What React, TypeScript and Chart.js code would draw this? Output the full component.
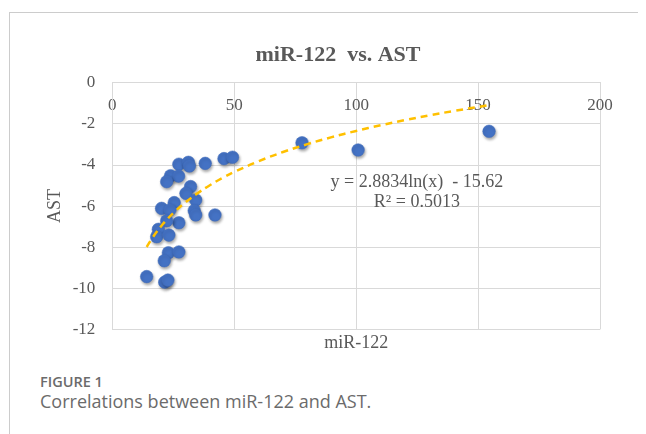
import React, { useEffect, useRef } from "react";
import { Chart, registerables } from "chart.js";

Chart.register(...registerables);

const TITLE = "miR-122  vs. AST";
const X_LABEL = "miR-122";
const Y_LABEL = "AST";
const FIG_LABEL = "FIGURE 1";
const CAPTION = "Correlations between miR-122 and AST.";

const miR122 = [
  27.3, 31.2, 31.6, 38.1, 45.8, 49.3, 23.9, 27.2, 22.3, 32.1, 30.2, 34.2, 25.4, 20.2, 23.6, 33.6,
  34.2, 42.1, 27.3, 22.3, 18.9, 18.2, 23.2, 23.0, 27.3, 21.3, 14.1, 21.5, 22.8, 77.8, 100.8, 154.5,
];
const AST = [
  -3.96, -3.87, -4.05, -3.92, -3.69, -3.62, -4.52, -4.54, -4.81, -5.05, -5.38, -5.7, -5.83, -6.11,
  -6.19, -6.22, -6.43, -6.43, -6.81, -6.71, -7.13, -7.49, -7.41, -8.27, -8.23, -8.66, -9.43, -9.7,
  -9.6, -2.92, -3.27, -2.36,
];

const X_TICKS = [0, 50, 100, 150, 200];
const Y_TICKS = [0, -2, -4, -6, -8, -10, -12];

// Logarithmic trendline shown on the chart: y = A ln(x) + B
const TREND_A = 2.8834;
const TREND_B = -15.62;
const EQUATION = "y = 2.8834ln(x)  - 15.62";
const R_SQUARED = "R² = 0.5013";
const TREND_X = [14.1, 15, 16, 18, 20, 23, 26, 30, 35, 40, 45, 50, 60, 70, 80, 90, 100, 110, 120, 130, 140, 154.5];
const EQ_POS = { x: 124.9, y1: -4.83, y2: -5.79 };

const SERIF = "'Liberation Serif', 'Times New Roman', serif";
const TEXT_GRAY = "#595959";
const GRID = "#d9d9d9";

export default function App() {
  const canvasRef = useRef<HTMLCanvasElement | null>(null);

  useEffect(() => {
    document.documentElement.style.overflow = "hidden";
    document.body.style.overflow = "hidden";
    const canvas = canvasRef.current;
    if (!canvas) return;

    const points = miR122.map((x, i) => ({ x, y: AST[i] }));
    const trend = TREND_X.map((x) => ({ x, y: TREND_A * Math.log(x) + TREND_B }));

    const shadowPlugin = {
      id: "pointShadow",
      beforeDatasetDraw(chart: any, args: any) {
        if (args.index !== 1) return;
        const ctx = chart.ctx;
        ctx.save();
        ctx.shadowColor = "rgba(0,0,0,0.35)";
        ctx.shadowBlur = 3;
        ctx.shadowOffsetX = 1;
        ctx.shadowOffsetY = 2;
      },
      afterDatasetDraw(chart: any, args: any) {
        if (args.index !== 1) return;
        chart.ctx.restore();
      },
    };

    const textPlugin = {
      id: "chartTexts",
      afterDraw(chart: any) {
        const ctx = chart.ctx;
        const xs = chart.scales.x;
        const ys = chart.scales.y;
        const area = chart.chartArea;
        ctx.save();
        ctx.fillStyle = TEXT_GRAY;
        ctx.textAlign = "center";
        ctx.textBaseline = "middle";
        // chart title
        ctx.font = `bold 22px ${SERIF}`;
        ctx.fillText(TITLE, 318, 35);
        // x-axis title, centred under the plot
        ctx.font = `18px ${SERIF}`;
        ctx.fillText(X_LABEL, (area.left + area.right) / 2, area.bottom + 14);
        // trendline equation
        const px = xs.getPixelForValue(EQ_POS.x);
        ctx.fillText(EQUATION, px, ys.getPixelForValue(EQ_POS.y1));
        ctx.fillText(R_SQUARED, px, ys.getPixelForValue(EQ_POS.y2));
        ctx.restore();
      },
    };

    const chart = new Chart(canvas, {
      type: "scatter",
      data: {
        datasets: [
          {
            type: "line",
            label: "Log trend",
            data: trend,
            borderColor: "#FFC000",
            borderWidth: 2.5,
            borderDash: [7, 5],
            pointRadius: 0,
            fill: false,
            tension: 0.4,
            order: 0,
          } as any,
          {
            label: "AST",
            data: points,
            backgroundColor: "#4472C4",
            borderColor: "#3f6bbb",
            borderWidth: 0.5,
            pointRadius: 6.3,
            order: 1,
          },
        ],
      },
      options: {
        responsive: false,
        animation: false,
        devicePixelRatio: 1,
        layout: { padding: { left: 0, right: 56, top: 62.8, bottom: 30.6 } },
        plugins: {
          legend: { display: false },
          tooltip: { enabled: false },
          title: { display: false },
        },
        scales: {
          x: {
            type: "linear",
            position: { y: 0 } as any,
            min: 0,
            max: 200,
            afterBuildTicks: (s: any) => {
              s.ticks = X_TICKS.map((v) => ({ value: v }));
            },
            ticks: {
              color: TEXT_GRAY,
              font: { family: SERIF, size: 17 },
              padding: 13,
              maxRotation: 0,
              minRotation: 0,
            },
            grid: { color: GRID, lineWidth: 1, drawTicks: false },
            border: { display: true, color: GRID, width: 1 },
            title: { display: false },
          },
          y: {
            type: "linear",
            position: "left",
            min: -12,
            max: 0,
            afterBuildTicks: (s: any) => {
              s.ticks = Y_TICKS.map((v) => ({ value: v }));
            },
            afterFit: (s: any) => {
              s.width = 92.3;
            },
            ticks: {
              color: TEXT_GRAY,
              font: { family: SERIF, size: 17 },
              padding: 17,
            },
            grid: { color: GRID, lineWidth: 1, drawTicks: false },
            border: { display: true, color: GRID, width: 1 },
            title: {
              display: true,
              text: Y_LABEL,
              color: TEXT_GRAY,
              font: { family: SERIF, size: 18, lineHeight: 1.2 },
              padding: { top: 24.2, bottom: 0 },
            },
          },
        },
      },
      plugins: [shadowPlugin, textPlugin],
    });

    return () => chart.destroy();
  }, []);

  return (
    <div style={{ position: "relative", width: 638, height: 426, overflow: "hidden" }}>
      <div
        style={{
          position: "absolute",
          left: 1,
          top: 4,
          width: 900,
          height: 900,
          borderLeft: "1px solid #cccccc",
          borderTop: "1px solid #cccccc",
          boxSizing: "border-box",
        }}
      />
      <canvas
        ref={canvasRef}
        width={636}
        height={340}
        style={{ position: "absolute", left: 12, top: 12, width: 636, height: 340 }}
      />
      <div
        style={{
          position: "absolute",
          left: 32,
          top: 365,
          fontFamily: "'Open Sans', 'Noto Sans', sans-serif",
          fontSize: 14.5,
          fontWeight: 600,
          lineHeight: "18px",
          color: "#6b6b6b",
          whiteSpace: "nowrap",
        }}
      >
        {FIG_LABEL}
      </div>
      <div
        style={{
          position: "absolute",
          left: 32,
          top: 382,
          fontFamily: "'Open Sans', 'Noto Sans', sans-serif",
          fontSize: 18,
          fontWeight: 400,
          lineHeight: "22px",
          color: "#6b6b6b",
          whiteSpace: "nowrap",
        }}
      >
        {CAPTION}
      </div>
    </div>
  );
}
